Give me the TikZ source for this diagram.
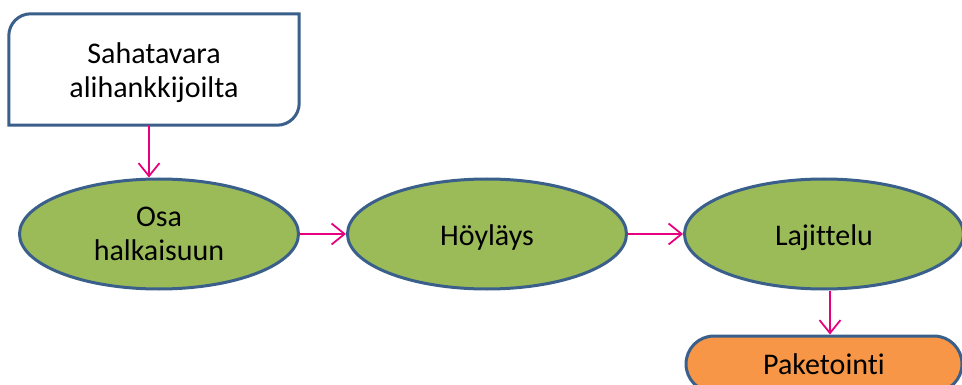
\documentclass[tikz,border=0pt]{standalone}
\usepackage{fontspec}
\setmainfont{Carlito}[Ligatures={NoCommon}]
\usetikzlibrary{shapes.geometric,shapes.misc,arrows.meta}
\definecolor{edgeblue}{HTML}{3A5F8B}
\definecolor{stepgreen}{HTML}{9BBB59}
\definecolor{packorange}{HTML}{F79646}
\definecolor{flowpink}{HTML}{E6007E}
\tikzset{
  every node/.style={font=\fontsize{30}{34}\selectfont, align=center},
  stage/.style={ellipse, draw=edgeblue, line width=3pt, fill=stepgreen,
    minimum width=279pt, minimum height=110pt, inner sep=0pt},
  flow/.style={draw=flowpink, line width=1.8pt,
    -{Straight Barb[length=13pt,width=21pt,line width=1.8pt]}},
}
\begin{document}
\begin{tikzpicture}[x=1pt,y=-1pt]
\useasboundingbox (0,0) rectangle (962,385);
\clip (0,0) rectangle (962,385);
% source box with two rounded corners
\node[minimum width=290pt, minimum height=111pt, inner sep=0pt] (src) at (154,69.5) {};
\draw[edgeblue, line width=3pt, fill=white]
  (src.north) -- (src.north east) -- (src.east)
  [rounded corners=22pt] -- (src.south east) -- (src.south)
  [sharp corners] -- (src.south west) -- (src.west)
  [rounded corners=22pt] -- (src.north west) -- cycle;
\node at ([yshift=-3pt]src.center) {Sahatavara\\alihankkijoilta};
% process stages
\node[stage] (split) at (159,234) {Osa\\halkaisuun};
\node[stage] (plane) at (487,234) {};
\node at ([yshift=-4pt]plane.center) {Höyläys};
\node[stage] (sort) at (824,234) {};
\node at ([yshift=-4pt]sort.center) {Lajittelu};
\node[rounded rectangle, draw=edgeblue, line width=3pt, fill=packorange,
  minimum width=276pt, minimum height=56pt, inner sep=0pt] (pack) at (824,364) {Paketointi};
% connectors
\draw[flow] (src.south -| 149,0) -- (split.north -| 149,0);
\draw[flow] (split.east) -- (plane.west);
\draw[flow] (plane.east) -- (sort.west);
\draw[flow] (sort.south -| 830,0) -- (pack.north -| 830,0);
\end{tikzpicture}
\end{document}
